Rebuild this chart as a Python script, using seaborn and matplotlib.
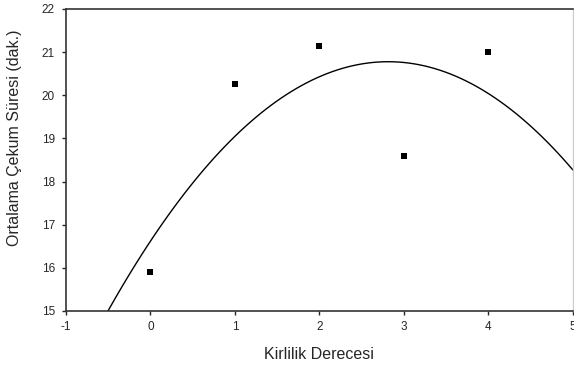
import matplotlib
matplotlib.use("Agg")
import matplotlib.pyplot as plt
import seaborn as sns
import pandas as pd

# data
kirlilik = [0, 1, 2, 3, 4]
cekum_suresi = [15.9, 20.25, 21.15, 18.6, 21.0]

x_ticks = [-1, 0, 1, 2, 3, 4, 5]
y_ticks = [15, 16, 17, 18, 19, 20, 21, 22]

df = pd.DataFrame({"Kirlilik": kirlilik, "Sure": cekum_suresi})

sns.set_style("ticks")
plt.rcParams["font.family"] = ["Liberation Sans", "DejaVu Sans"]
plt.rcParams["axes.unicode_minus"] = False

fig = plt.figure(figsize=(5.74, 3.67), dpi=100)
ax = fig.add_axes([0.115, 0.1526, 0.883, 0.8229])
ax.set_xlim(-1, 5)
ax.set_ylim(15, 22)

# quadratic fit line, drawn over the full x range
sns.regplot(data=df, x="Kirlilik", y="Sure", order=2, ci=None, truncate=False,
            scatter=False, color="black", line_kws={"linewidth": 1.0}, ax=ax)
sns.scatterplot(data=df, x="Kirlilik", y="Sure", marker="s", s=22,
                color="black", edgecolor="black", linewidth=0, ax=ax, zorder=3)

ax.set_xlim(-1, 5)
ax.set_ylim(15, 22)
ax.set_xticks(x_ticks)
ax.set_yticks(y_ticks)
ax.tick_params(labelsize=8.5, length=3, width=1, direction="out")
ax.tick_params(axis="y", pad=5)
ax.tick_params(axis="x", pad=4)

for side in ["left", "bottom", "top"]:
    ax.spines[side].set_color("#333333")
    ax.spines[side].set_linewidth(1.2)
ax.spines["right"].set_color("#cccccc")
ax.spines["right"].set_linewidth(1.0)

ax.set_xlabel("Kirlilik Derecesi", fontsize=11.5)
ax.set_ylabel("Ortalama Çekum Süresi (dak.)", fontsize=11.5)
ax.xaxis.set_label_coords(0.5, -0.12)
ax.yaxis.set_label_coords(-0.087, 0.575)

fig.savefig("out.png", dpi=100)
